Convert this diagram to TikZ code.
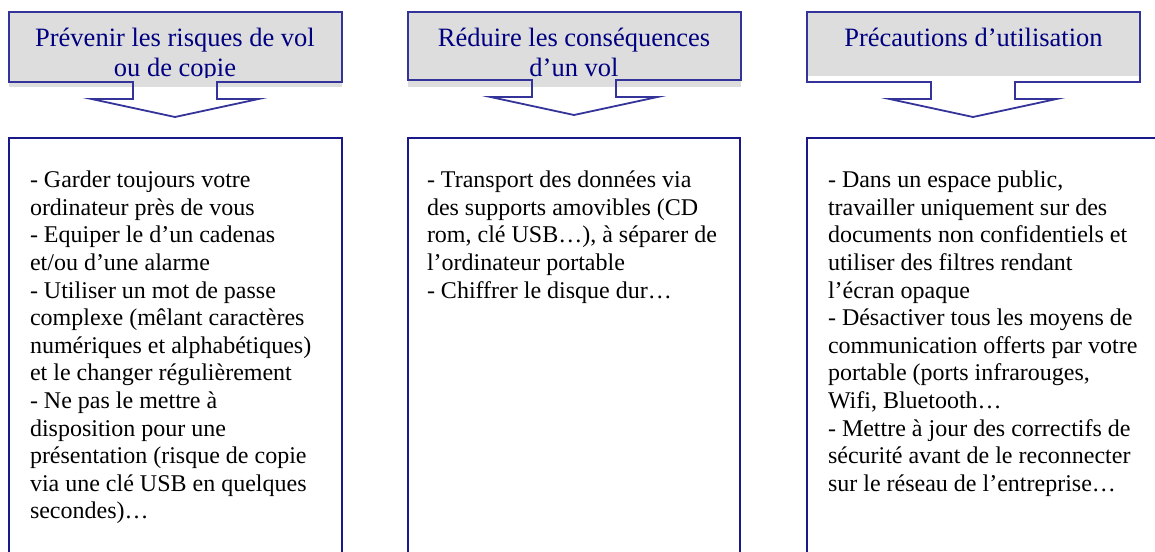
\documentclass[tikz,border=0pt]{standalone}
\usepackage{fontspec}
\setmainfont{Liberation Serif}
\usetikzlibrary{positioning}
\definecolor{frameblue}{RGB}{51,51,153}
\definecolor{boxblue}{RGB}{25,25,140}
\definecolor{titleblue}{RGB}{0,0,128}
\definecolor{titlegray}{RGB}{221,221,221}

\begin{document}
\begin{tikzpicture}[x=1pt, y=-1pt,
    every node/.style={inner sep=0pt, outer sep=0pt},
    title/.style={text=titleblue, align=center, anchor=base, font=\fontsize{26.5}{30.7}\selectfont},
    body/.style={align=left, anchor=base west, font=\fontsize{24}{27.6}\selectfont},
    callout/.style={draw=frameblue, line width=1.8pt, line join=miter},
    textframe/.style={draw=boxblue, line width=1.8pt}]
  \useasboundingbox (0,0) rectangle (1155,551);
  \clip (0,0) rectangle (1155,551);

  % callouts: left edge / bottom of frame / bottom of grey fill
  \foreach \l/\b/\f in {9/82/87, 408/80/87, 807/82/76} {
    \pgfmathsetmacro\c{\l+166}
    \fill[titlegray] (\l,12) rectangle (\l+333,\f);
    \draw[callout] (\l,12) -- (\l+333,12) -- (\l+333,\b) -- (\c+42,\b) -- (\c+42,\b+17)
      -- (\c+83.5,\b+17) -- (\c,\b+35) -- (\c-83.5,\b+17) -- (\c-42,\b+17) -- (\c-42,\b) -- (\l,\b) -- cycle;
  }

  % titles (anchor base = last line)
  \begin{scope}
    \clip (9,12) rectangle (342,77.3);
    \node[title] (prevenir) at (175,76.7) {Prévenir les risques de vol\\ou de copie};
  \end{scope}
  \begin{scope}
    \clip (408,12) rectangle (740,78);
    \node[title] (reduire) at (574,76.7) {Réduire les conséquences\\d’un vol};
  \end{scope}
  \node[title] (precautions) at (973.5,46) {Précautions d’utilisation};

  % text frames, open at the bottom
  \draw[textframe] (9,560) |- (342,138) -- (342,560);
  \draw[textframe] (408,560) |- (740,138) -- (740,560);
  \draw[textframe] (807,560) |- (1165,138);

  \node[body] (garder) at (30,518.9) {- Garder toujours votre\\ordinateur près de vous\\- Equiper le d’un cadenas\\et/ou d’une alarme\\- Utiliser un mot de passe\\complexe (mêlant caractères\\numériques et alphabétiques)\\et le changer régulièrement\\- Ne pas le mettre à\\disposition pour une\\présentation (risque de copie\\via une clé USB en quelques\\secondes)…};
  \node[body] (transport) at (427,298.1) {- Transport des données via\\des supports amovibles (CD\\rom, clé USB…), à séparer de\\l’ordinateur portable\\- Chiffrer le disque dur…};
  \node[body] (espace) at (828,491.3) {- Dans un espace public,\\travailler uniquement sur des\\documents non confidentiels et\\utiliser des filtres rendant\\l’écran opaque\\- Désactiver tous les moyens de\\communication offerts par votre\\portable (ports infrarouges,\\Wifi, Bluetooth…\\- Mettre à jour des correctifs de\\sécurité avant de le reconnecter\\sur le réseau de l’entreprise…};
\end{tikzpicture}
\end{document}
